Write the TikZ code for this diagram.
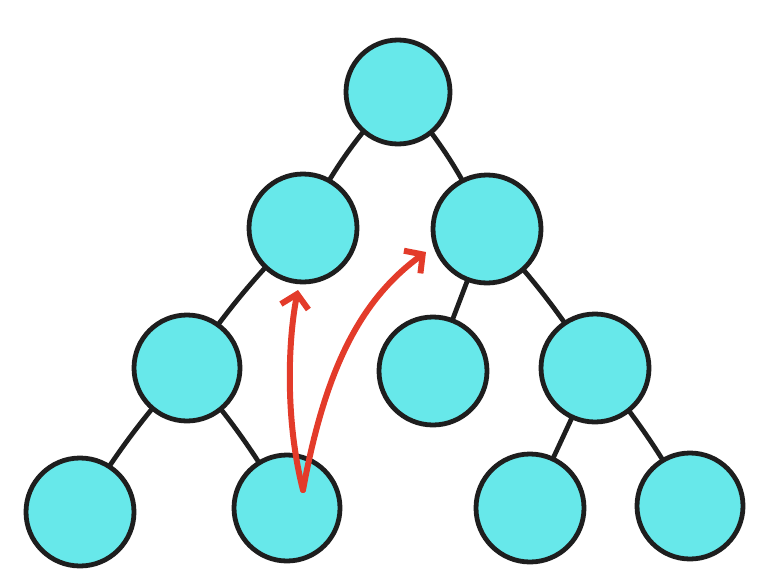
\documentclass[tikz,border=0pt]{standalone}
\usetikzlibrary{arrows.meta}
\definecolor{nodefill}{HTML}{67E8EA}
\definecolor{inkline}{HTML}{1E1E1E}
\definecolor{redink}{HTML}{E33B2A}
\tikzset{
  tnode/.style={circle, draw=inkline, line width=4.8pt, fill=nodefill, inner sep=0pt},
  tedge/.style={draw=inkline, line width=4.8pt, line cap=round},
  redarrow/.style={draw=redink, line width=6pt, line cap=round, line join=round,
    -{Straight Barb[length=13pt,width=28pt,line width=6pt]}}
}
\begin{document}
\begin{tikzpicture}[x=1pt,y=-1pt]
\useasboundingbox (0,0) rectangle (770,578);
% positions
\coordinate (pr) at (398,92);
\coordinate (pa) at (303,228);
\coordinate (pb) at (487,229);
\coordinate (pc) at (187,368);
\coordinate (pd) at (433,371);
\coordinate (pe) at (595,368);
\coordinate (pf) at (80,512);
\coordinate (pg) at (287,508);
\coordinate (ph) at (530,508);
\coordinate (pi) at (690,506);
% edges
\draw[tedge] (pr) to[bend right=8] (pa);
\draw[tedge] (pr) to[bend left=8] (pb);
\draw[tedge] (pa) to[bend right=5] (pc);
\draw[tedge] (pb) to (pd);
\draw[tedge] (pb) to[bend left=5] (pe);
\draw[tedge] (pc) to[bend right=5] (pf);
\draw[tedge] (pc) to[bend left=5] (pg);
\draw[tedge] (pe) to (ph);
\draw[tedge] (pe) to[bend left=5] (pi);
% nodes
\node[tnode, minimum size=104pt] (r) at (pr) {};
\node[tnode, minimum size=108pt] (a) at (pa) {};
\node[tnode, minimum size=108pt] (b) at (pb) {};
\node[tnode, minimum size=106pt] (c) at (pc) {};
\node[tnode, minimum size=108pt] (d) at (pd) {};
\node[tnode, minimum size=108pt] (e) at (pe) {};
\node[tnode, minimum size=108pt] (f) at (pf) {};
\node[tnode, minimum size=106pt] (g) at (pg) {};
\node[tnode, minimum size=108pt] (h) at (ph) {};
\node[tnode, minimum size=106pt] (i) at (pi) {};
% red arrows
\coordinate (s) at (303,490);
\coordinate (t1) at (298,290);
\coordinate (t2) at (426,252);
\draw[redarrow] (s) .. controls (285,420) and (288,340) .. (t1);
\draw[redarrow] (s) .. controls (325,370) and (360,300) .. (t2);
\end{tikzpicture}
\end{document}
